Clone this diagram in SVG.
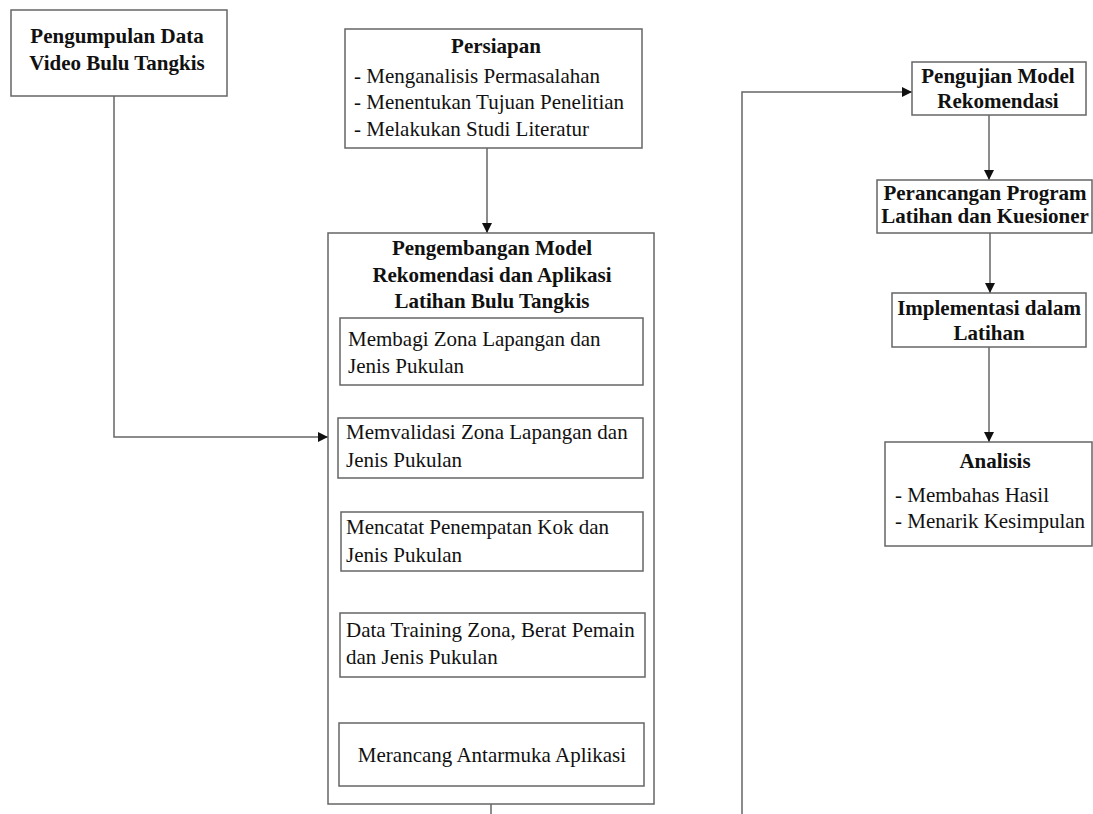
<svg xmlns="http://www.w3.org/2000/svg" width="1093" height="814" viewBox="0 0 1093 814">
<style>
.box{fill:#fff;stroke:#666;stroke-width:1.5}
.t{font-size:21px;fill:#111}
.b{font-weight:bold}
.c{text-anchor:middle}
.ln{fill:none;stroke:#666;stroke-width:1.5}
</style>
<defs>
<marker id="ah" viewBox="0 0 10 10" refX="10" refY="5" markerWidth="10" markerHeight="10" markerUnits="userSpaceOnUse" orient="auto">
<path d="M0,0 L10,5 L0,10 z" fill="#111"/>
</marker>
</defs>
<rect width="1093" height="814" fill="#fff"/>
<g id="connectors">
<path class="ln" d="M114,96 V437 H328" marker-end="url(#ah)"/>
<path class="ln" d="M487,148 V233" marker-end="url(#ah)"/>
<path class="ln" d="M487,385 V418" marker-end="url(#ah)"/>
<path class="ln" d="M487,478 V512" marker-end="url(#ah)"/>
<path class="ln" d="M487,571 V613" marker-end="url(#ah)"/>
<path class="ln" d="M487,677 V723" marker-end="url(#ah)"/>
<path class="ln" d="M491,804 V814"/>
<path class="ln" d="M742,814 V92 H912" marker-end="url(#ah)"/>
<path class="ln" d="M989,115 V180" marker-end="url(#ah)"/>
<path class="ln" d="M990,233 V293" marker-end="url(#ah)"/>
<path class="ln" d="M989,347 V442" marker-end="url(#ah)"/>
</g>
<g id="pengumpulan">
<rect class="box" x="11" y="10" width="216" height="86"/>
<text class="t b c" font-family="Liberation Serif" x="117" y="43">Pengumpulan Data</text>
<text class="t b c" font-family="Liberation Serif" x="117" y="70">Video Bulu Tangkis</text>
</g>
<g id="persiapan">
<rect class="box" x="345" y="29" width="297" height="119"/>
<text class="t b c" font-family="Liberation Serif" x="496" y="53">Persiapan</text>
<text class="t" font-family="Liberation Serif" x="354" y="83">- Menganalisis Permasalahan</text>
<text class="t" font-family="Liberation Serif" x="354" y="109">- Menentukan Tujuan Penelitian</text>
<text class="t" font-family="Liberation Serif" x="354" y="136">- Melakukan Studi Literatur</text>
</g>
<g id="pengembangan">
<rect class="box" x="328" y="233" width="326" height="571"/>
<text class="t b c" font-family="Liberation Serif" x="492" y="255">Pengembangan Model</text>
<text class="t b c" font-family="Liberation Serif" x="492" y="282">Rekomendasi dan Aplikasi</text>
<text class="t b c" font-family="Liberation Serif" x="492" y="308">Latihan Bulu Tangkis</text>
</g>
<g id="membagi">
<rect class="box" x="340" y="318" width="303" height="67"/>
<text class="t" font-family="Liberation Serif" x="348" y="346">Membagi Zona Lapangan dan</text>
<text class="t" font-family="Liberation Serif" x="348" y="373">Jenis Pukulan</text>
</g>
<g id="memvalidasi">
<rect class="box" x="338" y="418" width="305" height="60"/>
<text class="t" font-family="Liberation Serif" x="346" y="439">Memvalidasi Zona Lapangan dan</text>
<text class="t" font-family="Liberation Serif" x="346" y="467">Jenis Pukulan</text>
</g>
<g id="mencatat">
<rect class="box" x="341" y="512" width="302" height="59"/>
<text class="t" font-family="Liberation Serif" x="346" y="534">Mencatat Penempatan Kok dan</text>
<text class="t" font-family="Liberation Serif" x="346" y="562">Jenis Pukulan</text>
</g>
<g id="training">
<rect class="box" x="340" y="613" width="305" height="64"/>
<text class="t" font-family="Liberation Serif" x="346" y="637">Data Training Zona, Berat Pemain</text>
<text class="t" font-family="Liberation Serif" x="346" y="664">dan Jenis Pukulan</text>
</g>
<g id="antarmuka">
<rect class="box" x="339" y="723" width="305" height="63"/>
<text class="t c" font-family="Liberation Serif" x="492" y="762">Merancang Antarmuka Aplikasi</text>
</g>
<g id="pengujian">
<rect class="box" x="912" y="62" width="174" height="53"/>
<text class="t b c" font-family="Liberation Serif" x="998" y="83">Pengujian Model</text>
<text class="t b c" font-family="Liberation Serif" x="998" y="108">Rekomendasi</text>
</g>
<g id="perancangan">
<rect class="box" x="877" y="180" width="215" height="53"/>
<text class="t b c" font-family="Liberation Serif" x="985" y="200">Perancangan Program</text>
<text class="t b c" font-family="Liberation Serif" x="985" y="223">Latihan dan Kuesioner</text>
</g>
<g id="implementasi">
<rect class="box" x="892" y="293" width="194" height="54"/>
<text class="t b c" font-family="Liberation Serif" x="989" y="315">Implementasi dalam</text>
<text class="t b c" font-family="Liberation Serif" x="989" y="340">Latihan</text>
</g>
<g id="analisis">
<rect class="box" x="885" y="442" width="207" height="104"/>
<text class="t b c" font-family="Liberation Serif" x="995" y="468">Analisis</text>
<text class="t" font-family="Liberation Serif" x="895" y="502">- Membahas Hasil</text>
<text class="t" font-family="Liberation Serif" x="895" y="528">- Menarik Kesimpulan</text>
</g>
</svg>
